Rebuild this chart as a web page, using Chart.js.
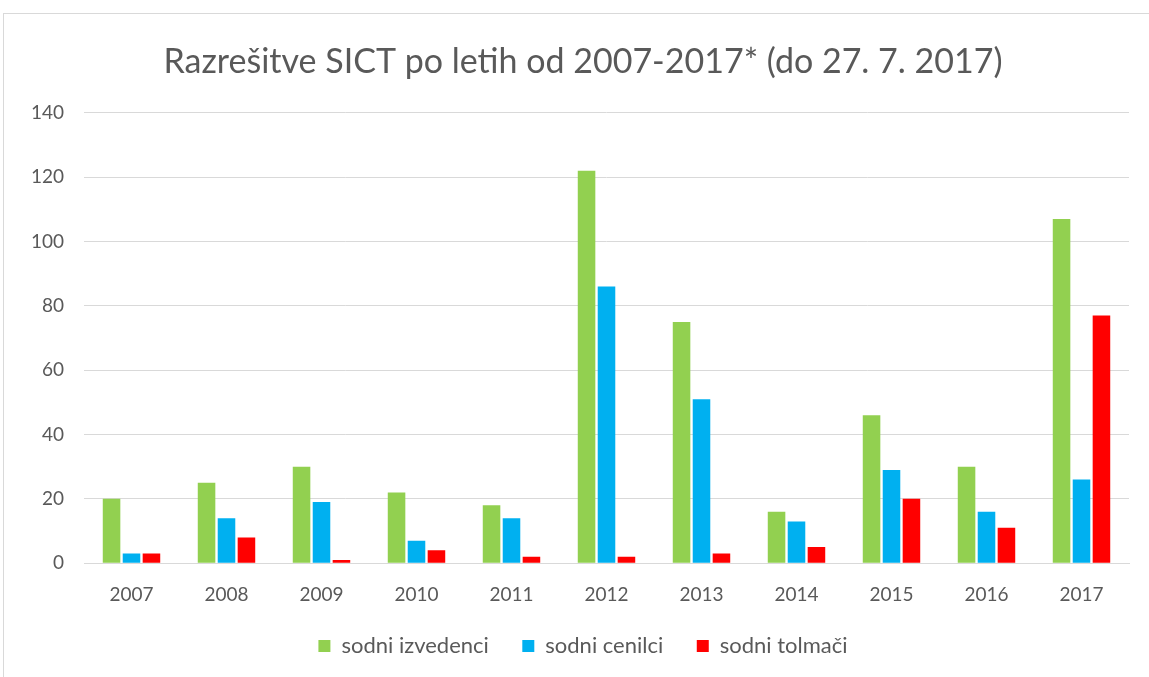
<!DOCTYPE html>
<html>
<head>
<meta charset="utf-8">
<script src="https://cdn.jsdelivr.net/npm/chart.js@4.4.0/dist/chart.umd.min.js"></script>
<style>
  html, body { margin: 0; padding: 0; background: #fff; overflow: hidden; }
  #frame {
    position: absolute; left: 3px; top: 13px;
    width: 1160px; height: 680px;
    border: 1px solid #d9d9d9; box-sizing: border-box;
  }
  #wrap { position: absolute; left: 0; top: 0; width: 1172px; height: 664px; }
</style>
</head>
<body>
<div id="frame"><div id="wrap"><canvas id="c"></canvas></div></div>
<script>
var years = ["2007", "2008", "2009", "2010", "2011", "2012", "2013", "2014", "2015", "2016", "2017"];
var izvedenci = [20, 25, 30, 22, 18, 122, 75, 16, 46, 30, 107];
var cenilci = [3, 14, 19, 7, 14, 86, 51, 13, 29, 16, 26];
var tolmaci = [3, 8, 1, 4, 2, 2, 3, 5, 20, 11, 77];

var fontFam = "Lato, 'Open Sans', sans-serif",
    textColor = "#595959";

function series(label, data, color) {
    return {
        label: label,
        data: data,
        backgroundColor: color,
        borderWidth: 0,
        categoryPercentage: 0.63,
        barPercentage: 0.88
    };
}

var defaultLabels = Chart.defaults.plugins.legend.labels.generateLabels;

// the y axis is given a narrow box so the title/legend sit right of centre;
// widen its label clip area back to the canvas edge after layout
var yLabelRoom = {
    id: "yLabelRoom",
    afterLayout: function(chart) { chart.scales.y.left = 0; }
};

new Chart(document.getElementById("c"), {
    type: "bar",
    data: {
        labels: years,
        datasets: [
            series("sodni izvedenci", izvedenci, "#92d050"),
            series("sodni cenilci", cenilci, "#00b0f0"),
            series("sodni tolmači", tolmaci, "#ff0000")
        ]
    },
    plugins: [yLabelRoom],
    options: {
        responsive: true,
        maintainAspectRatio: false,
        animation: false,
        layout: { padding: { left: 33, right: 47, top: 0, bottom: 11 } },
        plugins: {
            title: {
                display: true,
                text: "Razrešitve SICT po letih od 2007-2017* (do 27. 7. 2017)",
                color: textColor,
                font: { family: fontFam, size: 34, weight: "normal" },
                padding: { top: 28, bottom: 30 }
            },
            legend: {
                position: "bottom",
                labels: {
                    color: textColor,
                    font: { family: fontFam, size: 22 },
                    boxWidth: 12,
                    boxHeight: 12,
                    padding: 17,
                    // wider gaps between items without a taller legend box
                    generateLabels: function(chart) {
                        var items = defaultLabels(chart);
                        items.forEach(function(it, i) {
                            if (i < items.length - 1) { it.text = it.text + "\u2003"; }
                        });
                        return items;
                    }
                }
            },
            tooltip: { enabled: false }
        },
        scales: {
            x: {
                grid: { display: false },
                border: { color: "#d9d9d9", width: 1 },
                ticks: { color: textColor, font: { family: fontFam, size: 19 }, padding: 12 }
            },
            y: {
                min: 0,
                max: 140,
                afterFit: function(scale) { scale.width = 47; },
                ticks: { stepSize: 20, color: textColor, font: { family: fontFam, size: 19 }, padding: 20 },
                grid: { color: "#d9d9d9", drawTicks: false },
                border: { display: false }
            }
        }
    }
});
</script>
</body>
</html>
